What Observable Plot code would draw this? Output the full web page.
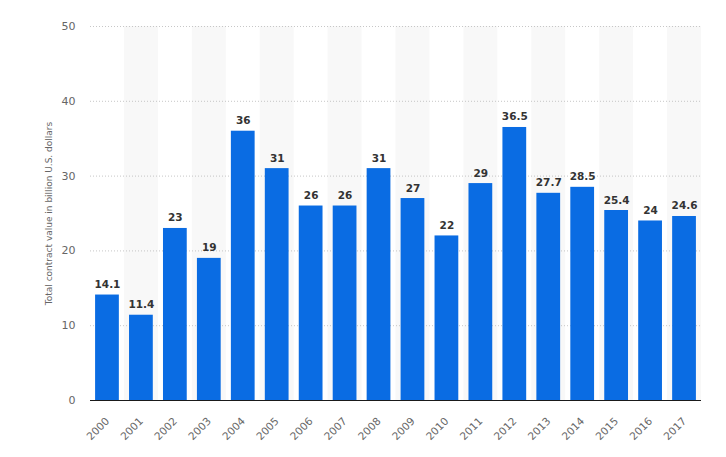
<!DOCTYPE html>
<html>
<head>
<meta charset="utf-8">
<script src="https://cdn.jsdelivr.net/npm/d3@7"></script>
<script src="https://cdn.jsdelivr.net/npm/@observablehq/plot@0.6"></script>
<style>
  html, body { margin: 0; padding: 0; background: #fff; }
  #chart { width: 726px; height: 457px; }
</style>
</head>
<body>
<div id="chart"></div>
<script>
const years = ["2000","2001","2002","2003","2004","2005","2006","2007","2008","2009","2010","2011","2012","2013","2014","2015","2016","2017"];
const values = [14.1, 11.4, 23, 19, 36, 31, 26, 26, 31, 27, 22, 29, 36.5, 27.7, 28.5, 25.4, 24, 24.6];
const yTicks = [0, 10, 20, 30, 40, 50];
const yLabel = "Total contract value in billion U.S. dollars";

const data = years.map((y, i) => ({year: y, value: values[i]}));
const stripes = years.filter((y, i) => i % 2 === 1);

const chart = Plot.plot({
  width: 726,
  height: 457,
  marginLeft: 90,
  marginRight: 25,
  marginTop: 26,
  marginBottom: 57,
  style: {fontFamily: "DejaVu Sans, sans-serif", background: "#fff"},
  x: {domain: years, paddingInner: 0.3, paddingOuter: 0.15, round: false},
  y: {domain: [0, 50]},
  marks: [
    Plot.barY(stripes, {x: d => d, y1: 0, y2: 50, fill: "#f8f8f8", insetLeft: -5.1, insetRight: -5.1}),
    Plot.ruleY(yTicks.filter(t => t > 0), {stroke: "#b9b9b9", strokeWidth: 0.8, strokeDasharray: "1,2"}),
    Plot.barY(data, {x: "year", y: "value", fill: "#0a6ce3"}),
    Plot.ruleY([0], {stroke: "#1a1a1a", strokeWidth: 1.2}),
    Plot.text(data, {x: "year", y: "value", text: d => String(d.value), lineAnchor: "bottom", dy: -7, fontWeight: "bold", fontSize: 10.5, fill: "#333"}),
    Plot.axisY({ticks: yTicks, tickSize: 0, tickPadding: 15, fontSize: 11, fill: "#666", label: yLabel, labelAnchor: "center", labelArrow: "none", labelOffset: 45}),
    Plot.axisX({tickSize: 0, tickPadding: 19, tickRotate: -45, fontSize: 10.5, fill: "#666", label: null})
  ]
});
chart.querySelectorAll("g[aria-label='y-axis label']").forEach(el => el.setAttribute("font-size", "9"));
document.getElementById("chart").appendChild(chart);
</script>
</body>
</html>
